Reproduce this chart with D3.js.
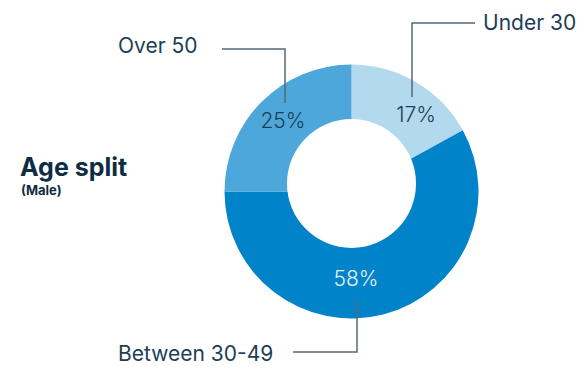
<!DOCTYPE html>
<html><head><meta charset="utf-8">
<script src="https://cdn.jsdelivr.net/npm/d3@7"></script>
<style>html,body{margin:0;padding:0;background:#fff;}svg{display:block;font-family:Inter,"Noto Sans",sans-serif;}</style>
</head><body>
<script>
const categories = ["Under 30", "Between 30-49", "Over 50"];
const values = [17, 58, 25];
const colors = ["#b3d9ef", "#0083c8", "#4ea7da"];
const pctLabels = ["17%", "58%", "25%"];

const W = 582, H = 366;
const cx = 351.5, cy = 191.5, R = 127, r = 64.5;
const svg = d3.select("body").append("svg").attr("width", W).attr("height", H);

const pie = d3.pie().sort(null).value(d => d)(values);
const arc = d3.arc().innerRadius(0).outerRadius(R);
const g = svg.append("g").attr("transform", `translate(${cx},${cy})`);
g.selectAll("path").data(pie).join("path")
  .attr("d", arc).attr("fill", (d, i) => colors[i]);
// hole (slightly offset up as in reference)
g.append("circle").attr("cx", 0).attr("cy", -8).attr("r", r).attr("fill", "#fff");

// percent label layout (relative to donut centre)
const pctLayout = [[64.5, -69.5], [4.5, 94.5], [-68.5, -63.5]];
g.selectAll("text.pct").data(pie).join("text").attr("class", "pct")
  .attr("x", (d, i) => pctLayout[i][0])
  .attr("y", (d, i) => pctLayout[i][1])
  .attr("text-anchor", "middle")
  .attr("font-size", 21).attr("font-weight", 300)
  .attr("fill", (d, i) => i === 1 ? "#e3f1fa" : "#1d3e56")
  .text((d, i) => pctLabels[i]);

// leader lines and category labels
const leaders = [
  {pts: [[412, 97], [412, 23], [475, 23]], tx: 483, ty: 30},
  {pts: [[357, 300], [357, 352], [293, 352]], tx: 118, ty: 361},
  {pts: [[285, 103], [285, 49], [222, 49]], tx: 118, ty: 53}
];
svg.selectAll("polyline.lead").data(leaders).join("polyline").attr("class", "lead")
  .attr("points", d => d.pts.map(p => p.join(",")).join(" "))
  .attr("fill", "none").attr("stroke", "#536879").attr("stroke-width", 1.5);
svg.selectAll("text.cat").data(leaders).join("text").attr("class", "cat")
  .attr("x", d => d.tx).attr("y", d => d.ty)
  .attr("font-size", 21).attr("font-weight", 400).attr("fill", "#1d3e56")
  .text((d, i) => categories[i]);

// title
svg.append("text").attr("x", 20).attr("y", 176).attr("font-size", 25).attr("font-weight", 700)
  .attr("fill", "#0e2d42").text("Age split");
svg.append("text").attr("x", 21).attr("y", 195).attr("font-size", 13).attr("font-weight", 700)
  .attr("fill", "#0e2d42").text("(Male)");
</script>
</body></html>
